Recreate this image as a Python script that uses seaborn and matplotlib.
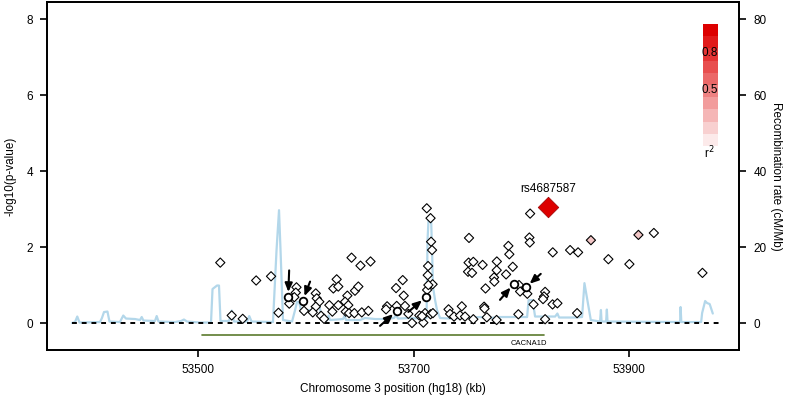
import numpy as np
import pandas as pd
import matplotlib
matplotlib.use("Agg")
import matplotlib.pyplot as plt
from matplotlib.colors import ListedColormap
import seaborn as sns

# SNP positions (kb, hg18) and -log10(p)
snp_pos = [53520.4, 53531.0, 53541.2, 53553.7, 53567.5, 53574.4, 53584.4, 53591.1, 53590.5, 53589.1,
           53598.1, 53609.0, 53609.9, 53612.3, 53609.0, 53606.2, 53613.9, 53616.7, 53625.3, 53628.4,
           53629.9, 53621.6, 53624.4, 53629.9, 53638.3, 53636.2, 53639.2, 53636.8, 53639.9, 53645.4,
           53648.5, 53644.8, 53651.7, 53657.8, 53642.2, 53650.5, 53659.8, 53675.2, 53674.2, 53684.1,
           53683.5, 53689.7, 53690.6, 53691.8, 53694.9, 53698.3, 53705.1, 53708.8, 53710.4, 53712.3,
           53717.4, 53712.9, 53713.2, 53712.0, 53715.5, 53716.0, 53716.9, 53713.5, 53707.6, 53715.5,
           53717.7, 53732.2, 53733.6, 53737.3, 53744.5, 53742.9, 53747.5, 53755.2, 53751.2, 53750.8,
           53755.2, 53750.3, 53754.0, 53763.8, 53766.5, 53765.2, 53765.6, 53767.7, 53774.4, 53774.7,
           53777.0, 53776.9, 53776.8, 53787.7, 53788.6, 53791.8, 53785.6, 53797.6, 53798.6, 53805.3,
           53797.0, 53807.2, 53807.6, 53807.9, 53811.1, 53821.8, 53820.8, 53819.9, 53821.8, 53828.9,
           53828.7, 53833.2, 53845.0, 53852.4, 53864.3, 53851.5, 53880.5, 53900.0, 53908.4, 53922.7,
           53967.8]
snp_logp = [1.59, 0.20, 0.11, 1.12, 1.23, 0.27, 0.51, 0.94, 0.80, 0.68,
            0.32, 0.78, 0.65, 0.56, 0.43, 0.28, 0.19, 0.11, 0.91, 1.15,
            0.96, 0.47, 0.30, 0.47, 0.72, 0.56, 0.47, 0.30, 0.26, 0.85,
            0.96, 0.26, 0.28, 0.32, 1.72, 1.51, 1.62, 0.44, 0.36, 0.45,
            0.92, 1.13, 0.72, 0.45, 0.24, 0.00, 0.20, 0.01, 0.26, 0.87,
            1.02, 1.26, 1.50, 3.02, 2.76, 2.14, 1.92, 1.00, 0.18, 0.23,
            0.26, 0.36, 0.24, 0.17, 0.44, 0.20, 0.17, 0.10, 2.24, 1.59,
            1.61, 1.35, 1.32, 1.53, 0.91, 0.43, 0.38, 0.15, 1.20, 1.09,
            1.62, 1.39, 0.08, 2.03, 1.81, 1.48, 1.28, 1.00, 0.83, 0.77,
            0.23, 2.25, 2.12, 2.88, 0.49, 0.82, 0.70, 0.63, 0.10, 1.86,
            0.49, 0.52, 1.92, 1.86, 2.18, 0.26, 1.68, 1.55, 2.32, 2.37,
            1.32]
pink_snps = [53864.3, 53908.4]  # the two SNPs with some LD (r2 ~ 0.2)

# SNPs marked with arrows (drawn as circles)
marked_pos = [53583.4, 53596.9, 53684.1, 53711.0, 53792.7, 53804.1]
marked_logp = [0.69, 0.59, 0.32, 0.68, 1.03, 0.95]

lead_name = "rs4687587"
lead_pos = 53824.3
lead_logp = 3.06

# recombination rate (cM/Mb)
recomb_pos = [53382.8, 53385.6, 53387.7, 53389.8, 53408.8, 53410.6, 53412.5, 53415.7, 53417.6, 53427.3,
              53429.2, 53430.4, 53432.9, 53441.3, 53445.9, 53447.5, 53449.1, 53459.8, 53461.4, 53463.1,
              53478.4, 53484.0, 53486.7, 53489.5, 53501.6, 53511.8, 53513.2, 53517.4, 53519.2, 53520.6,
              53528.5, 53531.0, 53533.1, 53545.2, 53547.3, 53549.4, 53569.3, 53572.6, 53574.9, 53576.3,
              53578.6, 53587.0, 53589.8, 53591.6, 53593.5, 53595.3, 53608.3, 53609.7, 53611.1, 53614.8,
              53619.4, 53620.9, 53622.2, 53634.3, 53635.7, 53637.1, 53650.1, 53654.7, 53664.0, 53673.3,
              53681.6, 53683.5, 53685.3, 53696.5, 53705.8, 53711.8, 53712.7, 53713.7, 53716.0, 53716.9,
              53717.8, 53719.7, 53721.5, 53724.3, 53733.6, 53742.9, 53752.2, 53761.4, 53770.7, 53780.0,
              53789.3, 53798.6, 53805.1, 53806.5, 53810.2, 53812.5, 53821.8, 53831.1, 53833.2, 53834.8,
              53849.6, 53856.1, 53858.3, 53864.2, 53872.8, 53873.6, 53874.2, 53878.4, 53879.1, 53879.7,
              53947.1, 53947.5, 53948.2, 53966.6, 53967.5, 53970.3, 53972.1, 53974.5, 53977.4]
recomb_rate = [0.0, 0.26, 1.71, 0.13, 0.26, 1.32, 2.89, 3.03, 0.39, 0.26,
               1.32, 1.97, 1.18, 1.05, 0.79, 1.58, 0.66, 0.53, 1.84, 0.39,
               0.26, 0.53, 0.92, 0.39, 0.13, 0.13, 8.95, 9.87, 9.87, 0.53,
               0.53, 3.29, 0.39, 0.39, 1.84, 0.39, 0.26, 19.2, 29.7, 19.2,
               0.79, 0.39, 3.42, 5.53, 5.53, 3.42, 3.42, 6.58, 6.58, 0.79,
               0.66, 1.97, 0.79, 1.05, 1.97, 0.79, 0.79, 1.32, 1.05, 1.05,
               1.32, 2.11, 1.18, 1.32, 1.18, 1.32, 21.8, 27.6, 27.6, 19.2,
               9.47, 6.05, 3.42, 1.32, 1.18, 1.32, 1.45, 1.58, 1.32, 1.58,
               1.58, 1.58, 1.58, 6.05, 6.05, 1.71, 1.71, 1.71, 2.50, 1.45,
               1.45, 1.58, 10.5, 0.79, 0.39, 3.42, 0.39, 0.39, 3.55, 0.39,
               0.26, 4.21, 0.26, 0.26, 2.63, 5.79, 5.26, 5.00, 2.50]

gene_name = "CACNA1D"
gene_start, gene_end = 53503.4, 53820.8

xticks = [53500, 53700, 53900]
yticks = [0, 2, 4, 6, 8]
rticks = [0, 20, 40, 60, 80]

sns.set_style("ticks")
plt.rcParams["font.family"] = ["Liberation Sans", "DejaVu Sans"]
plt.rcParams["font.size"] = 8.5
plt.rcParams["text.color"] = "black"
plt.rcParams["axes.labelcolor"] = "black"
plt.rcParams["axes.edgecolor"] = "black"
plt.rcParams["xtick.color"] = "black"
plt.rcParams["ytick.color"] = "black"

snps = pd.DataFrame({"pos": snp_pos, "logp": snp_logp})
snps["ld"] = np.where(snps["pos"].isin(pink_snps), "mid", "low")
marked = pd.DataFrame({"pos": marked_pos, "logp": marked_logp})
recomb = pd.DataFrame({"pos": recomb_pos, "rate": recomb_rate})

fig = plt.figure(figsize=(7.87, 4), dpi=100)
ax = fig.add_axes([0.0597, 0.125, 0.8797, 0.870])
ax2 = ax.twinx()

sns.lineplot(data=recomb, x="pos", y="rate", ax=ax2, color="#b3d7ea", lw=1.6,
             sort=False, estimator=None)

ax.axhline(0, xmin=0.036, xmax=0.97, color="black", ls=(0, (2.5, 2.5)), lw=1.4, zorder=1)
sns.scatterplot(data=snps, x="pos", y="logp", hue="ld", palette={"low": "white", "mid": "#f2c6c6"},
                marker="D", s=22, edgecolor="black", linewidth=0.8, legend=False, ax=ax, zorder=3)
sns.scatterplot(data=marked, x="pos", y="logp", marker="o", s=30, facecolor="white",
                edgecolor="black", linewidth=1.3, ax=ax, zorder=4)
ax.scatter([lead_pos], [lead_logp], marker="D", s=110, color="#dd0000", edgecolor="#990000",
           linewidth=0.5, zorder=5)
ax.annotate(lead_name, (lead_pos, lead_logp), xytext=(0, 12.5), textcoords="offset points",
            ha="center", va="center", fontsize=8.5)

arrow_offsets = [(0.7, 19), (5.3, 13.7), (-12, -10.8), (-12.5, -10.6), (-9.9, -11.5), (10.6, 9.4)]
for (px, py), off in zip(zip(marked_pos, marked_logp), arrow_offsets):
    ax.annotate("", xy=(px, py), xytext=off, textcoords="offset points",
                arrowprops=dict(arrowstyle="-|>,head_length=0.6,head_width=0.26", color="black",
                                lw=1.5, shrinkA=0, shrinkB=3.5), zorder=6)

ax.plot([gene_start, gene_end], [-0.316, -0.316], color="#5b7a2e", lw=1.2, zorder=2)
ax.text(gene_end + 3, -0.53, gene_name, ha="right", va="center", fontsize=5.5)

ax.set_xlim(53359.6, 54002)
ax.set_ylim(-0.71, 8.45)
ax2.set_ylim(-7.1, 84.5)
ax.set_xticks(xticks)
ax.set_yticks(yticks)
ax2.set_yticks(rticks)
ax.set_xlabel("Chromosome 3 position (hg18) (kb)", fontsize=8.5, labelpad=5)
ax.set_ylabel("-log10(p-value)", fontsize=8.5, labelpad=7)
ax2.set_ylabel("Recombination rate (cM/Mb)", fontsize=8.5, rotation=270, labelpad=11)

for a in (ax, ax2):
    for sp in a.spines.values():
        sp.set_visible(True)
        sp.set_linewidth(1.3)
        sp.set_color("black")
    a.tick_params(direction="out", length=5, width=1.2, pad=5, labelsize=8.5, colors="black")

ax.set_zorder(ax2.get_zorder() + 1)
ax.patch.set_visible(False)

# r2 legend bar
levels = np.linspace(0.08, 1.0, 10)
red = np.array([0.87, 0.0, 0.0])
bar_cols = [tuple((1 - v) * np.ones(3) + v * red) for v in levels]
cax = fig.add_axes([0.8933, 0.635, 0.0178, 0.305])
cax.imshow(np.arange(10)[::-1].reshape(-1, 1), cmap=ListedColormap(bar_cols), aspect="auto",
           extent=(0, 1, 0, 1))
cax.set_axis_off()
cax.text(0.5, 0.76, "0.8", ha="center", va="center", fontsize=8.5, transform=cax.transAxes)
cax.text(0.5, 0.46, "0.5", ha="center", va="center", fontsize=8.5, transform=cax.transAxes)
cax.text(0.45, -0.06, "r$^2$", ha="center", va="center", fontsize=8.5, transform=cax.transAxes)

fig.savefig("out.png", dpi=100)
